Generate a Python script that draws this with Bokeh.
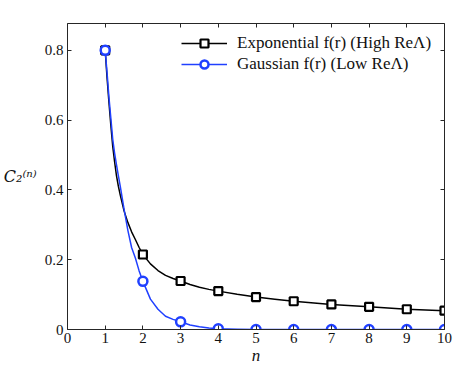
from bokeh.plotting import figure
from bokeh.models import (Range1d, LinearAxis, FixedTicker, CustomJSTickFormatter,
                          Legend, LegendItem)
from bokeh.embed import file_html
from bokeh.resources import INLINE

# ---- data ----
n_pts = [1, 2, 3, 4, 5, 6, 7, 8, 9, 10]
exp_pts = [0.80, 0.215, 0.139, 0.110, 0.093, 0.081, 0.072, 0.065, 0.058, 0.054]
gauss_pts = [0.80, 0.138, 0.022, 0.002, 0.0, 0.0, 0.0, 0.0, 0.0, 0.0]

n_curve = [1.0, 1.05, 1.1, 1.15, 1.2, 1.25, 1.3, 1.35, 1.4, 1.5, 1.6, 1.7, 1.8, 1.9,
           2.0, 2.2, 2.4, 2.6, 2.8, 3.0, 3.25, 3.5, 3.75, 4.0, 4.5, 5.0, 5.5, 6.0,
           7.0, 8.0, 9.0, 10.0]
exp_curve = [0.80, 0.72, 0.65, 0.585, 0.525, 0.48, 0.44, 0.41, 0.385, 0.34, 0.307,
             0.28, 0.258, 0.235, 0.215, 0.188, 0.169, 0.155, 0.146, 0.139, 0.129,
             0.121, 0.115, 0.110, 0.101, 0.093, 0.087, 0.081, 0.072, 0.065, 0.058, 0.054]
gauss_curve = [0.80, 0.735, 0.665, 0.605, 0.545, 0.505, 0.472, 0.44, 0.41, 0.345, 0.285,
               0.235, 0.205, 0.168, 0.138, 0.087, 0.058, 0.038, 0.029, 0.022, 0.013,
               0.008, 0.004, 0.002, 0.001, 0.0, 0.0, 0.0, 0.0, 0.0, 0.0, 0.0]

x_ticks = [0, 1, 2, 3, 4, 5, 6, 7, 8, 9, 10]
y_ticks = [0, 0.2, 0.4, 0.6, 0.8]

label_exp = "Exponential f(r) (High ReΛ)"
label_gauss = "Gaussian f(r) (Low ReΛ)"
y_label = "C₂⁽ⁿ⁾"
x_label = "n"

BLUE = "#2040ff"
FONT = "Liberation Serif"
AXC = "#262626"
TXT = "#111111"

p = figure(width=471, height=378, output_backend="svg", toolbar_location=None,
           x_range=Range1d(0, 10), y_range=Range1d(0, 0.877),
           min_border_left=66, min_border_right=27, min_border_top=23,
           min_border_bottom=49)
p.outline_line_color = None
p.xgrid.visible = False
p.ygrid.visible = False

fmt_y = CustomJSTickFormatter(code="return tick == 0 ? '0' : tick.toFixed(1);")
blank = CustomJSTickFormatter(code="return '';")

def style(ax, ticks):
    ax.ticker = FixedTicker(ticks=ticks)
    ax.major_tick_in = 4
    ax.major_tick_out = 0
    ax.minor_tick_line_color = None
    ax.axis_line_color = AXC
    ax.major_tick_line_color = AXC
    ax.major_label_text_font = FONT
    ax.major_label_text_font_size = "15px"
    ax.major_label_text_color = TXT

xa = p.xaxis[0]
style(xa, x_ticks)
xa.major_label_standoff = 3
xa.axis_label = x_label
xa.axis_label_text_font = FONT
xa.axis_label_text_font_style = "italic"
xa.axis_label_text_font_size = "17px"
xa.axis_label_text_color = TXT
xa.axis_label_standoff = 0

ya = p.yaxis[0]
style(ya, y_ticks)
ya.formatter = fmt_y
ya.major_label_standoff = 4
ya.axis_label = y_label
ya.axis_label_text_font = "DejaVu Serif"
ya.axis_label_text_font_style = "italic"
ya.axis_label_text_font_size = "16px"
ya.axis_label_text_color = TXT
ya.axis_label_standoff = 5
try:
    ya.axis_label_orientation = "horizontal"
except Exception:
    pass

top = LinearAxis(formatter=blank)
style(top, x_ticks)
top.major_label_standoff = 0
p.add_layout(top, "above")
right = LinearAxis(formatter=blank)
style(right, y_ticks)
right.major_label_standoff = 0
p.add_layout(right, "right")

# curves and markers
l1 = p.line(n_curve, exp_curve, line_color="black", line_width=1.5)
s1 = p.scatter(n_pts, exp_pts, marker="square", size=8, line_color="black",
               line_width=2.2, fill_color="white")
l2 = p.line(n_curve, gauss_curve, line_color=BLUE, line_width=1.5)
s2 = p.scatter(n_pts, gauss_pts, marker="circle", size=9, line_color=BLUE,
               line_width=2.5, fill_color="white")

legend = Legend(items=[LegendItem(label=label_exp, renderers=[l1, s1]),
                       LegendItem(label=label_gauss, renderers=[l2, s2])],
                location=(114, 255))
legend.padding = 0
legend.margin = 0
legend.spacing = 1
legend.glyph_width = 46
legend.glyph_height = 20
legend.label_height = 20
legend.label_standoff = 10
legend.label_text_font = FONT
legend.label_text_font_size = "17px"
legend.label_text_color = TXT
legend.background_fill_alpha = 0
legend.border_line_alpha = 0
p.add_layout(legend, "center")

open("out.html", "w").write(file_html(p, INLINE))
